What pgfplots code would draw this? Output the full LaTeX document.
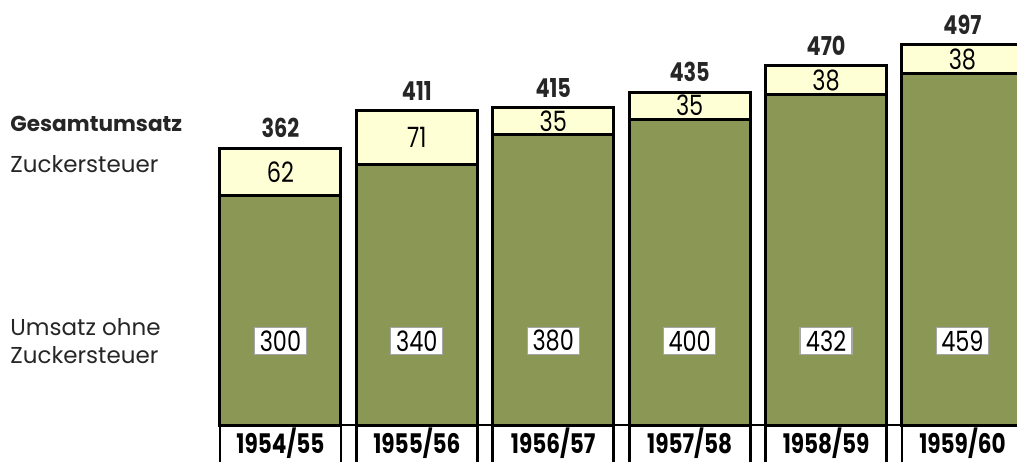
\documentclass[border=0pt]{standalone}
\usepackage{pgfplots}
\pgfplotsset{compat=1.18}
\usepackage{pgfplotstable}
\usepackage{fontspec}
\setmainfont{Poppins}
\newfontfamily\numfont{Poppins}[FakeStretch=0.8]
\definecolor{grn}{RGB}{139,151,84}
\definecolor{yel}{RGB}{255,255,214}
\pgfplotstableread{
x base tax total ymid gy
0 300 62 362 331 110
1 340 71 411 375.5 110
2 380 35 415 397.5 110
3 400 35 435 417.5 110
4 432 38 470 451 110
5 459 38 497 478 110
}\data
\begin{document}
\begin{tikzpicture}
\useasboundingbox (0,0) rectangle (508.5pt,230.5pt);
\clip (0,0) rectangle (508.5pt,230.5pt);
\begin{axis}[
 scale only axis, width=508.5pt, height=230.5pt,
 xmin=-2.056, xmax=5.40, ymin=-47.06, ymax=555.56,
 axis line style={draw=none}, ytick=\empty, xtick={0,...,5},
 xticklabels={1954/55,1955/56,1956/57,1957/58,1958/59,1959/60},
 major tick length=0pt,
 xticklabel style={draw=black, line width=1.4pt, fill=white, minimum width=60.5pt, minimum height=20pt, anchor=center, yshift=9pt, font=\numfont\bfseries\fontsize{13.5}{14}\selectfont, inner sep=0pt},
 clip=false,
]
\addplot[ybar, bar width=60.5pt, bar shift=0pt, fill=yel, draw=black, line width=1.5pt] table[x=x, y=total] {\data};
\addplot[ybar, bar width=60.5pt, bar shift=0pt, fill=grn, draw=black, line width=1.5pt] table[x=x, y=base] {\data};
\draw[line width=1pt] (axis cs:-0.4436,0) -- (axis cs:5.6,0);
\addplot[only marks, mark=none, nodes near coords, point meta=explicit symbolic,
  nodes near coords style={anchor=south, inner sep=0pt, yshift=5pt, text=black!85, font=\numfont\bfseries\fontsize{13}{14}\selectfont}]
  table[x=x, y=total, meta=total] {\data};
\addplot[only marks, mark=none, nodes near coords, point meta=explicit symbolic,
  nodes near coords style={anchor=center, inner sep=0pt, font=\numfont\fontsize{14}{15}\selectfont}]
  table[x=x, y=ymid, meta=tax] {\data};
\addplot[only marks, mark=none, nodes near coords, point meta=explicit symbolic,
  nodes near coords style={anchor=center, inner sep=0pt, fill=white, draw=black!35, line width=0.6pt, minimum width=26pt, minimum height=13.5pt, font=\numfont\fontsize{14}{15}\selectfont}]
  table[x=x, y=gy, meta=base] {\data};
\end{axis}
\node[anchor=base west, inner sep=0pt, text=black!85, font=\bfseries\fontsize{10.8}{13}\selectfont] at (5pt,164.5pt) {Gesamtumsatz};
\node[anchor=base west, inner sep=0pt, text=black!85, font=\fontsize{11.5}{13}\selectfont] at (5pt,144pt) {Zuckersteuer};
\node[anchor=base west, inner sep=0pt, text=black!85, font=\fontsize{11.5}{13}\selectfont] at (5pt,63pt) {Umsatz ohne};
\node[anchor=base west, inner sep=0pt, text=black!85, font=\fontsize{11.5}{13}\selectfont] at (5pt,49pt) {Zuckersteuer};
\end{tikzpicture}
\end{document}
